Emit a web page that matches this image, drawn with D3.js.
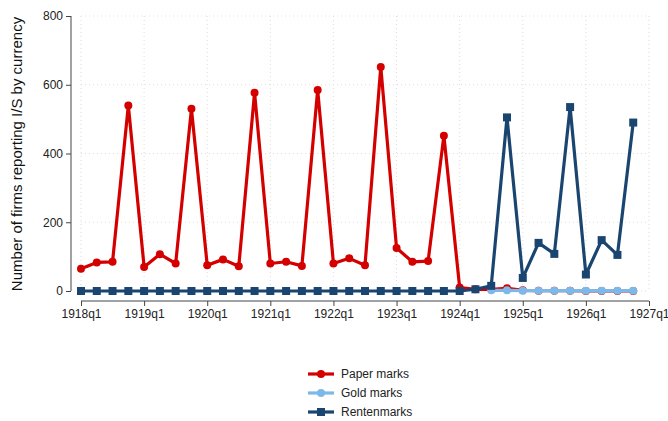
<!DOCTYPE html>
<html>
<head>
<meta charset="utf-8">
<script src="https://d3js.org/d3.v7.min.js"></script>
<style>body{margin:0;background:#fff;font-family:Arial,"Liberation Sans",sans-serif}</style>
</head>
<body>
<svg id="c" width="668" height="421"></svg>
<script>
// quarter index 0 = 1918q1
const paper = [65,83,85,540, 70,107,80,530, 75,92,72,577, 80,85,73,585, 80,95,75,652, 125,85,87,452, 10,5,5,8, 2,1,1,1, 0,0,0,0];
const gold = [null,null,null,null, null,null,null,null, null,null,null,null, null,null,null,null, null,null,null,null, null,null,null,null, null,null,2,2, 1,1,1,1, 1,1,1,1];
const renten = [0,0,0,0, 0,0,0,0, 0,0,0,0, 0,0,0,0, 0,0,0,0, 0,0,0,0, 0,5,15,505, 38,140,108,535, 48,148,105,490];
const xTicks = ["1918q1","1919q1","1920q1","1921q1","1922q1","1923q1","1924q1","1925q1","1926q1","1927q1"];
const yTicks = [0,200,400,600,800];

const svg = d3.select("#c");
const x = d3.scaleLinear().domain([0,36]).range([81,649]);
const y = d3.scaleLinear().domain([0,800]).range([291,16]);

// grid
svg.append("g").selectAll("line").data(yTicks).join("line")
  .attr("x1",81).attr("x2",649).attr("y1",d=>y(d)).attr("y2",d=>y(d))
  .attr("stroke","#ddd").attr("stroke-dasharray","1,3");
svg.append("g").selectAll("line").data(xTicks).join("line")
  .attr("x1",(d,i)=>x(i*4)).attr("x2",(d,i)=>x(i*4)).attr("y1",16).attr("y2",291)
  .attr("stroke","#ddd").attr("stroke-dasharray","1,3");

const xa = svg.append("g").attr("transform","translate(0,301)")
  .call(d3.axisBottom(x).tickValues(d3.range(0,37,4)).tickFormat((d,i)=>xTicks[i]).tickSize(5));
const ya = svg.append("g").attr("transform","translate(71,0)")
  .call(d3.axisLeft(y).tickValues(yTicks).tickSize(5));
[xa,ya].forEach(a=>{a.selectAll("path,line").attr("stroke","#444");a.selectAll("text").attr("font-size",12).attr("fill","#222");});
xa.select(".domain").attr("d","M81,0H649");
ya.select(".domain").attr("d","M0,16V291");

svg.append("text").attr("transform","translate(22,154) rotate(-90)").attr("text-anchor","middle")
  .attr("font-size",15).attr("fill","#111").text("Number of firms reporting I/S by currency");

const series = [
  {name:"Paper marks", data:paper, color:"#d40000", shape:"circle"},
  {name:"Gold marks", data:gold, color:"#7db9e8", shape:"circle"},
  {name:"Rentenmarks", data:renten, color:"#1a4570", shape:"square"}
];
const line = d3.line().defined(d=>d!=null).x((d,i)=>x(i)).y(d=>y(d));
series.forEach(s=>{
  const g = svg.append("g");
  g.append("path").datum(s.data).attr("d",line).attr("fill","none").attr("stroke",s.color).attr("stroke-width",3.2).attr("stroke-linejoin","round");
  const pts = s.data.map((v,i)=>({v,i})).filter(p=>p.v!=null);
  if (s.shape==="circle") g.selectAll("circle").data(pts).join("circle").attr("cx",p=>x(p.i)).attr("cy",p=>y(p.v)).attr("r",4).attr("fill",s.color);
  else g.selectAll("rect").data(pts).join("rect").attr("x",p=>x(p.i)-4).attr("y",p=>y(p.v)-4).attr("width",8).attr("height",8).attr("fill",s.color);
});

// legend
series.forEach((s,k)=>{
  const ly = 374 + k*19;
  const g = svg.append("g");
  g.append("line").attr("x1",308).attr("x2",334).attr("y1",ly).attr("y2",ly).attr("stroke",s.color).attr("stroke-width",3.2);
  if (s.shape==="circle") g.append("circle").attr("cx",321).attr("cy",ly).attr("r",4).attr("fill",s.color);
  else g.append("rect").attr("x",317).attr("y",ly-4).attr("width",8).attr("height",8).attr("fill",s.color);
  g.append("text").attr("x",341).attr("y",ly+4).attr("font-size",12).attr("fill","#222").text(s.name);
});
</script>
</body>
</html>
